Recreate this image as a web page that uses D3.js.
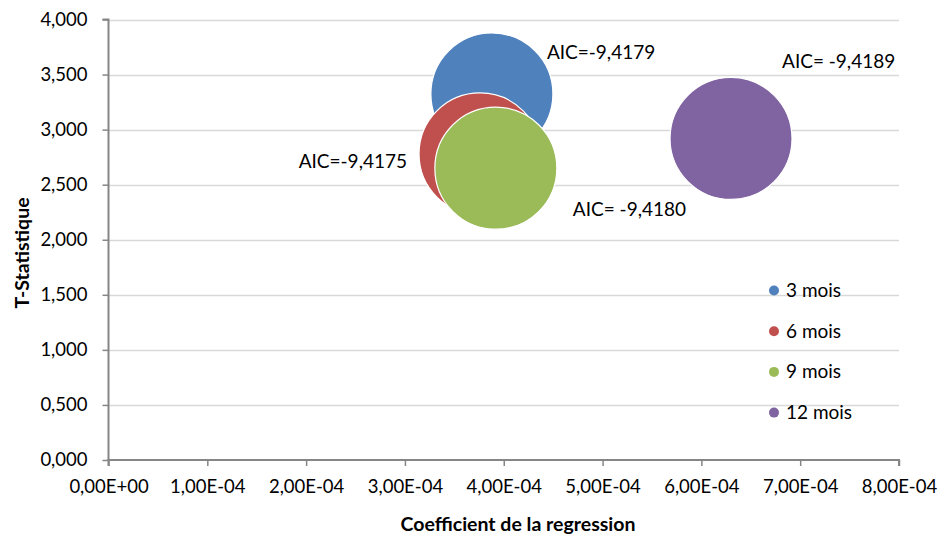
<!DOCTYPE html>
<html><head><meta charset="utf-8">
<script src="https://cdn.jsdelivr.net/npm/d3@7"></script>
<style>body{margin:0;background:#fff}svg{display:block}text{font-family:Lato,"Open Sans",sans-serif;fill:#000}</style>
</head><body>
<svg id="c" width="941" height="535"></svg>
<script>
const series = ["3 mois","6 mois","9 mois","12 mois"];
const coef = [3.88e-4, 3.76e-4, 3.92e-4, 6.30e-4];
const tstat = [3324, 2779, 2650, 2920];
const aic = [-9.4179, -9.4175, -9.4180, -9.4189];
const aicLabels = ["AIC=-9,4179", "AIC=-9,4175", "AIC= -9,4180", "AIC= -9,4189"];
const colors = ["#4F81BD","#C0504D","#9BBB59","#8064A2"];
const xTicks = [0,1e-4,2e-4,3e-4,4e-4,5e-4,6e-4,7e-4,8e-4];
const yTicks = [0,500,1000,1500,2000,2500,3000,3500,4000];

const svg = d3.select("#c");
const L=108.5, R=899, T=19.5, B=460;
const x = d3.scaleLinear().domain([0,8e-4]).range([L,R]);
const y = d3.scaleLinear().domain([0,4000]).range([B,T]);
const rS = d3.scaleSqrt().domain([0, d3.max(aic, d=>Math.abs(d))]).range([0,61]);

const fmtX = d => d3.format(".2e")(d).replace(".",",").replace("e","E").replace(/E([+-])(\d)$/,"E$10$2");
const fmtY = d => d3.format(".3f")(d/1000).replace(".",",");

// gridlines
svg.append("g").selectAll("line").data(yTicks.filter(d=>d>0)).join("line")
  .attr("x1",L).attr("x2",R).attr("y1",d=>Math.round(y(d))+0.5).attr("y2",d=>Math.round(y(d))+0.5)
  .attr("stroke","#d9d9d9").attr("stroke-width",1.5);

// axes
const yAxis = d3.axisLeft(y).tickValues(yTicks).tickFormat(fmtY).tickSize(6).tickPadding(15);
const gy = svg.append("g").attr("transform",`translate(${L},0)`).call(yAxis);
const xAxis = d3.axisBottom(x).tickValues(xTicks).tickFormat(fmtX).tickSize(6).tickPadding(14);
const gx = svg.append("g").attr("transform",`translate(0,${B})`).call(xAxis);
[gx,gy].forEach(g=>{
  g.select(".domain").attr("stroke","#868686").attr("stroke-width",2);
  g.selectAll(".tick line").attr("stroke","#868686").attr("stroke-width",1.5);
  g.selectAll(".tick text").style("font-size","18.5px").style("font-family","Lato").attr("fill","#000");
});
gy.select(".domain").attr("d",`M-6,${T}H0V${B}`);
gx.select(".domain").attr("d",`M${L},6V0H${R}V6`);

// bubbles
const data = series.map((s,i)=>({s,x:coef[i],y:tstat[i],a:aic[i],c:colors[i],lab:aicLabels[i]}));
svg.append("g").selectAll("circle").data(data).join("circle")
  .attr("cx",d=>x(d.x)).attr("cy",d=>y(d.y)).attr("r",d=>rS(Math.abs(d.a)))
  .attr("fill",d=>d.c).attr("stroke","#fff").attr("stroke-width",1.2);

// data labels
const labPos = [
  {dx:55, dy:-35, anchor:"start"},
  {dx:-73, dy:14, anchor:"end"},
  {dx:77, dy:48, anchor:"start"},
  {dx:51, dy:-70, anchor:"start"}
];
svg.append("g").selectAll("text").data(data).join("text")
  .attr("x",(d,i)=>x(d.x)+labPos[i].dx).attr("y",(d,i)=>y(d.y)+labPos[i].dy)
  .attr("text-anchor",(d,i)=>labPos[i].anchor)
  .style("font-size","19px").text(d=>d.lab);

// legend
const lg = svg.append("g").attr("transform","translate(774,290.5)");
const li = lg.selectAll("g").data(data).join("g").attr("transform",(d,i)=>`translate(0,${i*40.7})`);
li.append("circle").attr("r",5).attr("fill",d=>d.c);
li.append("text").attr("x",12).attr("y",6.5).style("font-size","19px").text(d=>d.s);

// axis titles
svg.append("text").attr("x",518).attr("y",531).attr("text-anchor","middle")
  .style("font-size","19.5px").style("font-weight","bold").text("Coefficient de la regression");
svg.append("text").attr("transform","translate(29,253) rotate(-90)").attr("text-anchor","middle")
  .style("font-size","19.5px").style("font-weight","bold").text("T-Statistique");
</script>
</body></html>
